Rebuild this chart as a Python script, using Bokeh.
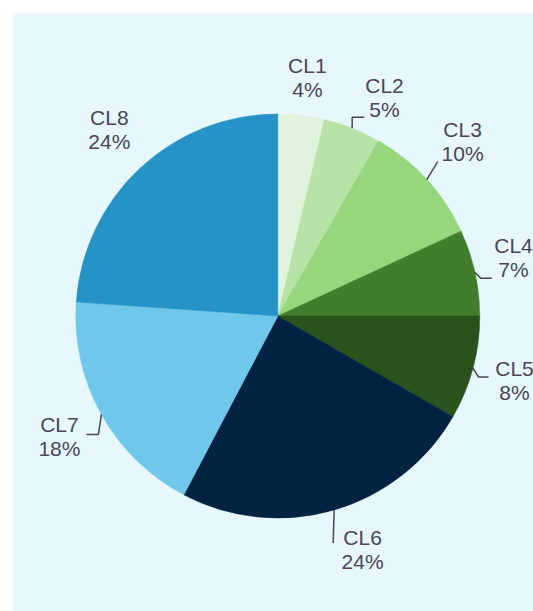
import numpy as np
from bokeh.plotting import figure
from bokeh.models import ColumnDataSource, Range1d
from bokeh.core.properties import value
from bokeh.embed import file_html
from bokeh.resources import INLINE

# ---- data ----
categories = ["CL1", "CL2", "CL3", "CL4", "CL5", "CL6", "CL7", "CL8"]
shares = [3.7, 4.6, 9.8, 6.9, 8.3, 24.4, 18.4, 23.9]
pct_labels = ["4%", "5%", "10%", "7%", "8%", "24%", "18%", "24%"]

# ---- style ----
colors = ["#e0f3dc", "#b8e3a7", "#96d67c", "#417e2b", "#2a531b", "#012342", "#6fc8ec", "#2593c5"]
text_color = "#4b4558"
bg_color = "#e6f8fd"
# label nudges in screen px (right, down) relative to radial placement
nudge_x = [1, 16, 3, -5, -1.4, 16, -3.2, -0.3]
nudge_y = [6.2, 10.6, -8, -5.6, 1.2, -3, 0.3, -6.3]
# leader lines: elbow offset from slice edge (px right, px down), then horizontal run (px)
elbow_dx = [None, 0, 11, 5.7, 5.6, -1, -3, None]
elbow_dy = [None, -11, -18, 5.6, 9, 33, 20, None]
run_h = [0, 12, 0, 11, 10, 0, -12, 0]

W, H = 533, 611
ML, MT = 13, 13
frame_w, frame_h = W - ML, H - MT
PX = 202.0            # pixels per data unit (= pie radius)
cx_px, cy_px = 264.3, 302.5

p = figure(width=W, height=H,
           x_range=Range1d(-cx_px / PX, (frame_w - cx_px) / PX),
           y_range=Range1d(-(frame_h - cy_px) / PX, cy_px / PX),
           x_axis_type=None, y_axis_type=None,
           output_backend="svg", toolbar_location=None,
           min_border_left=ML, min_border_top=MT, min_border_right=0, min_border_bottom=0,
           background_fill_color=bg_color, border_fill_color="white",
           outline_line_color=None)
p.grid.visible = False

vals = np.array(shares, dtype=float)
frac = vals / vals.sum()
cum = np.cumsum(frac)
prev = cum - frac
start = np.pi / 2 - 2 * np.pi * prev
end = np.pi / 2 - 2 * np.pi * cum
mid = np.pi / 2 - 2 * np.pi * (prev + frac / 2)

src = ColumnDataSource(dict(start=start, end=end, color=colors))
p.wedge(x=0, y=0, radius=1, start_angle="start", end_angle="end", direction="clock",
        fill_color="color", line_color="color", line_width=0.5, source=src)

# labels
r_lab = 1.22
gap = 23.5 / PX
lx = r_lab * np.cos(mid) + np.array(nudge_x) / PX
ly = r_lab * np.sin(mid) - np.array(nudge_y) / PX

font = value("Liberation Sans")
fsize = value("21px")
p.text(x=lx, y=ly + gap / 2, text=categories, text_align="center", text_baseline="middle",
       text_font=font, text_font_size=fsize, text_color=text_color)
p.text(x=lx, y=ly - gap / 2, text=pct_labels, text_align="center", text_baseline="middle",
       text_font=font, text_font_size=fsize, text_color=text_color)

# leader lines
xs, ys = [], []
for i in range(len(categories)):
    if elbow_dx[i] is None:
        continue
    x0, y0 = np.cos(mid[i]), np.sin(mid[i])
    x1, y1 = x0 + elbow_dx[i] / PX, y0 - elbow_dy[i] / PX
    x2 = x1 + run_h[i] / PX
    xs.append([x0, x1, x2])
    ys.append([y0, y1, y1])
p.multi_line(xs=xs, ys=ys, line_color=text_color, line_width=1.5)

open("out.html", "w").write(file_html(p, INLINE))
